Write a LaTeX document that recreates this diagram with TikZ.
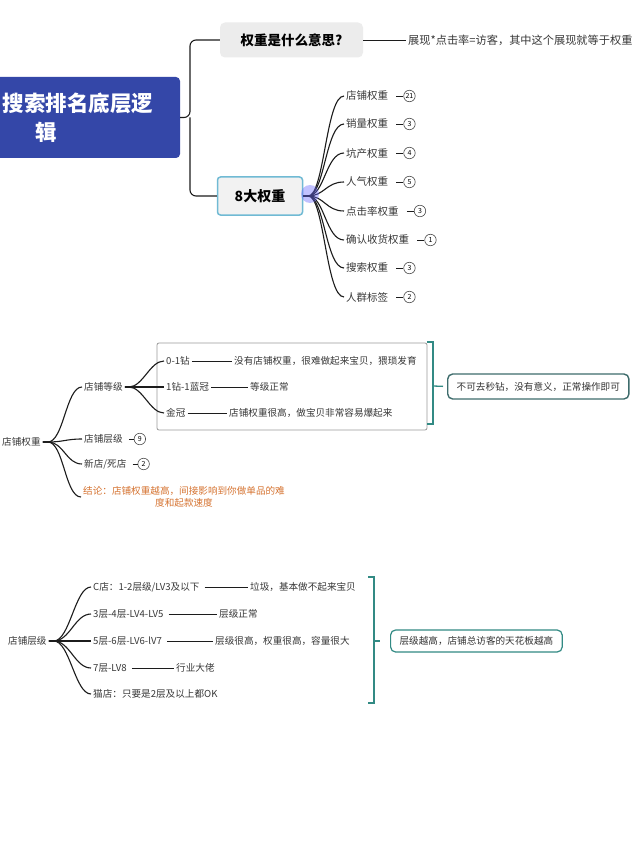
\documentclass[tikz,border=0pt]{standalone}
\usepackage{fontspec}
\setmainfont{Noto Sans CJK SC}
\usetikzlibrary{positioning}
\definecolor{rootblue}{RGB}{52,71,168}
\definecolor{boxgrey}{RGB}{236,236,236}
\definecolor{boxcyan}{RGB}{112,186,212}
\definecolor{tealline}{RGB}{50,138,132}
\definecolor{tealdark}{RGB}{62,108,108}
\definecolor{conclorange}{RGB}{214,116,50}
\definecolor{ink}{RGB}{28,28,28}
\newcommand{\smallcn}{\fontsize{9.6}{12}\selectfont}
\tikzset{
  branch/.style      = {ink, line width=1.1pt},
  detline/.style     = {ink, line width=0.9pt},
  leaf/.style        = {anchor=west, inner sep=2pt, text=black!78, font=\smallcn},
  bigleaf/.style     = {leaf, font=\fontsize{10.5}{12}\selectfont},
  numcirc/.style     = {circle, draw=black!70, line width=0.6pt, minimum size=11.5pt,
                        inner sep=0.3pt, font=\fontsize{7}{8}\selectfont},
  tipbox/.style      = {anchor=west, rounded corners=5pt, fill=white, inner xsep=9pt,
                        minimum height=23pt, text=black!80, font=\smallcn},
  framebox/.style    = {draw=black!40, line width=0.8pt, rounded corners=2pt},
  bracketline/.style = {tealline, line width=1.3pt}
}

\begin{document}
\begin{tikzpicture}[x=1pt,y=-1pt]
  \useasboundingbox[fill=white] (0,0) rectangle (640,853);

  % root and first level
  \node[fill=rootblue, rounded corners=4pt, minimum width=188pt, minimum height=81pt]
    (root) at (86,117.5) {};
  \node[text=white, font=\bfseries\fontsize{21.5}{24}\selectfont] (rootla) at (78,103) {搜索排名底层逻};
  \node[text=white, font=\bfseries\fontsize{21.5}{24}\selectfont] (rootlb) at (46,132) {辑};
  \coordinate (hub) at (190,117.5);
  \node[fill=boxgrey, rounded corners=5pt, minimum width=143pt, minimum height=35pt,
        font=\bfseries\fontsize{13.5}{15}\selectfont] (what) at (291.5,40) {权重是什么意思?};
  \node[fill=boxgrey!70, draw=boxcyan, line width=1.5pt, rounded corners=3pt,
        minimum width=85pt, minimum height=38pt,
        font=\bfseries\fontsize{14}{16}\selectfont] (eight) at (260,196) {8大权重};
  \draw[branch, rounded corners=6pt] (root.east) -- (hub) |- (what.west);
  \draw[branch, rounded corners=6pt] (hub) |- (eight.west);

  \node[bigleaf, font=\fontsize{11.2}{13}\selectfont] (whatans) at (406,40)
    {展现*点击率=访客，其中这个展现就等于权重};
  \draw[detline] (what.east) -- (whatans.west);

  % eight weights
  \foreach \n/\y/\t/\k in {a/96/店铺权重/21, b/124/销量权重/3, c/153/坑产权重/4,
      d/182/人气权重/5, e/211/点击率权重/3, f/240/确认收货权重/1,
      g/268/搜索权重/3, h/297/人群标签/2} {
    \node[bigleaf] (w\n) at (344,\y) {\t};
    \node[numcirc, right=13pt of w\n] (k\n) {\k};
    \draw[detline, shorten <=6pt] (w\n.east) -- (k\n.west);
    \draw[branch] (eight.east) -- ++(5,0) .. controls +(16,0) and +(-18,0) .. (w\n.west);
  }
  \fill[blue!60, opacity=0.4] (310,194) circle (9pt);

  % shop weight
  \node[leaf] (shopw) at (0,442) {店铺权重};
  \node[leaf] (lvl) at (82,387) {店铺等级};
  \node[leaf] (tier) at (82,439) {店铺层级};
  \node[leaf] (newdead) at (82,464) {新店/死店};
  \node[leaf, align=center, text=conclorange] (concl) at (81,497)
    {结论：店铺权重越高，间接影响到你做单品的难\\度和起款速度};
  \node[numcirc, right=9pt of tier] (ktier) {9};
  \node[numcirc, right=9pt of newdead] (knewdead) {2};
  \draw[detline, shorten <=4pt] (tier.east) -- (ktier.west);
  \draw[detline, shorten <=4pt] (newdead.east) -- (knewdead.west);
  \foreach \c in {lvl,tier,newdead,concl}
    \draw[branch] (shopw.east) -- ++(5,0) .. controls +(16,0) and +(-16,0) .. (\c.west);

  \draw[framebox] (157,343) rectangle (427,430);
  \node[leaf] (dzero) at (164,361) {0-1钻};
  \node[leaf] (dcrown) at (164,387) {1钻-1蓝冠};
  \node[leaf] (gold) at (164,413) {金冠};
  \foreach \c in {dzero,dcrown,gold}
    \draw[branch] (lvl.east) -- ++(4,0) .. controls +(14,0) and +(-14,0) .. (\c.west);
  \node[leaf] (dzerox) at (232,361) {没有店铺权重，很难做起来宝贝，猥琐发育};
  \node[leaf] (dcrownx) at (248,387) {等级正常};
  \node[leaf] (goldx) at (227,413) {店铺权重很高，做宝贝非常容易爆起来};
  \draw[detline] (dzero.east) -- (dzerox.west);
  \draw[detline] (dcrown.east) -- (dcrownx.west);
  \draw[detline] (gold.east) -- (goldx.west);

  \draw[bracketline] (427,342) -- (433,342) -- (433,424) -- (427,424);
  \coordinate (bra) at (433,386);
  \node[tipbox, draw=tealdark, line width=1.4pt, minimum height=25pt] (tipa) at (447,386.5)
    {不可去秒钻，没有意义，正常操作即可};
  \draw[bracketline, shorten >=4pt] (bra) -- (tipa.west);

  % shop tier
  \node[leaf] (tierw) at (6,641) {店铺层级};
  \node[leaf] (ca) at (91,587) {C店：1-2层级/LV3及以下};
  \node[leaf] (cb) at (91,614) {3层-4层-LV4-LV5};
  \node[leaf] (cc) at (91,641) {5层-6层-LV6-lV7};
  \node[leaf] (cd) at (91,668) {7层-LV8};
  \node[leaf] (ce) at (91,694) {猫店：只要是2层及以上都OK};
  \foreach \c in {ca,cb,cc,cd,ce}
    \draw[branch] (tierw.east) -- ++(5,0) .. controls +(16,0) and +(-16,0) .. (\c.west);
  \node[leaf] (cax) at (248,587) {垃圾，基本做不起来宝贝};
  \node[leaf] (cbx) at (217,614) {层级正常};
  \node[leaf] (ccx) at (213,641) {层级很高，权重很高，容量很大};
  \node[leaf] (cdx) at (174,668) {行业大佬};
  \foreach \c in {ca,cb,cc,cd}
    \draw[detline, shorten <=3pt] (\c.east) -- (\c x.west);

  \draw[bracketline] (368,577) -- (374,577) -- (374,703) -- (368,703);
  \coordinate (brb) at (374,641);
  \node[tipbox, draw=tealline, line width=1.2pt, minimum height=22pt] (tipb) at (390,641)
    {层级越高，店铺总访客的天花板越高};
  \draw[bracketline, shorten >=10pt] (brb) -- (tipb.west);
\end{tikzpicture}
\end{document}
